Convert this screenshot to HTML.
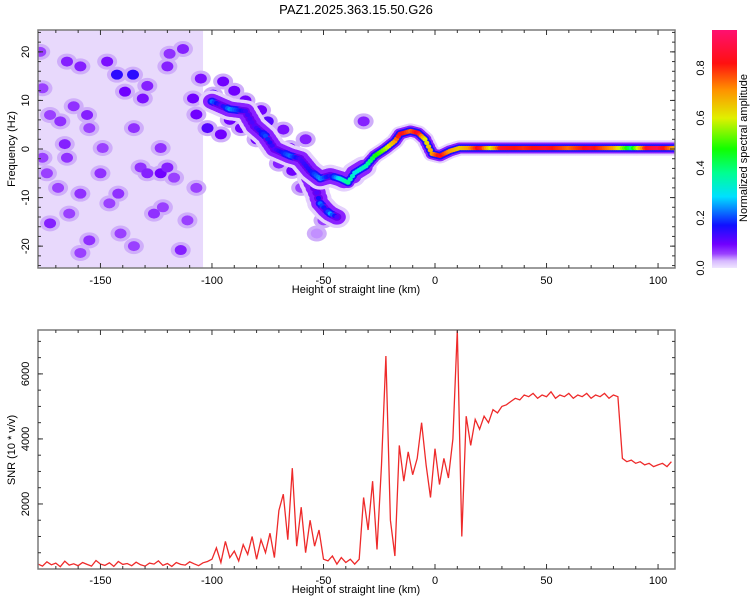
<!DOCTYPE html>
<html><head><meta charset="utf-8"><style>
html,body{margin:0;padding:0;background:#fff;}
svg{display:block;font-family:"Liberation Sans",sans-serif;}
</style></head><body>
<svg id="chart" width="750" height="600" viewBox="0 0 750 600">
<defs>
<linearGradient id="cbar" x1="0" y1="1" x2="0" y2="0">
<stop offset="0" stop-color="#f0e6ff"/><stop offset="0.03" stop-color="#d6b8ff"/><stop offset="0.06" stop-color="#9a40ff"/>
<stop offset="0.1" stop-color="#7000ff"/><stop offset="0.18" stop-color="#1010ff"/><stop offset="0.3" stop-color="#00e0ff"/>
<stop offset="0.4" stop-color="#00ff90"/><stop offset="0.5" stop-color="#10ff00"/><stop offset="0.63" stop-color="#e0f000"/>
<stop offset="0.75" stop-color="#ff9000"/><stop offset="0.86" stop-color="#ff1010"/><stop offset="1" stop-color="#ff1070"/>
</linearGradient>
<clipPath id="clipTop"><rect x="38" y="30" width="637" height="238"/></clipPath>
<clipPath id="clipBot"><rect x="38" y="330" width="637" height="239"/></clipPath>
</defs>
<text x="356" y="14" font-size="13" text-anchor="middle">PAZ1.2025.363.15.50.G26</text>
<g id="top"></g>
<g id="bot"></g>
<g id="cb">
<rect x="712" y="30" width="25" height="238" fill="url(#cbar)"/>
<text transform="translate(747,148) rotate(-90)" font-size="11" text-anchor="middle">Normalized spectral amplitude</text>
</g>
</svg>
<script>
// ---- data ----
const kmMin = -178, kmMax = 107.6;
const hzMin = -24.5, hzMax = 24.5;
const snrMax = 7350;
const xTickLabels = [-150, -100, -50, 0, 50, 100];
const hzTickLabels = [-20, -10, 0, 10, 20];
const snrTickLabels = [2000, 4000, 6000];
const cbTickLabels = [0.0, 0.2, 0.4, 0.6, 0.8];

const ridgeKm  = [-100,-96,-92,-85,-81,-76,-72,-65,-60.5,-56,-51.5,-47,-42.6,-39,-36,-31,-27,-22.4,-18,-15.7,-11,-7.6,-4.5,-1.3,2.2,6.7,11,15,20,25,30,40,50,60,70,80,88,95,100,107];
const ridgeHz  = [9.8,9,8.2,7.8,4.7,2.7,0,-1.4,-2,-4.5,-6.1,-5.5,-6.1,-6.9,-4.9,-3.5,-1.4,0,1.6,3.1,3.7,3.3,2,-1,-1.4,-0.4,0.2,0.2,0.2,0.2,0.2,0.2,0.2,0.2,0.2,0.2,0.2,0.2,0.2,0.2];
const ridgeAmp = [0.22,0.12,0.24,0.14,0.12,0.2,0.12,0.22,0.13,0.16,0.24,0.14,0.3,0.38,0.3,0.35,0.45,0.55,0.7,0.85,0.75,0.85,0.6,0.7,0.85,0.7,0.65,0.7,0.85,0.6,0.85,0.8,0.85,0.75,0.85,0.7,0.4,0.85,0.9,0.7];

const branchKm  = [-56,-53,-51.5,-49,-47,-44];
const branchHz  = [-6,-9,-11.2,-12.5,-13.3,-14];
const branchAmp = [0.1,0.12,0.22,0.15,0.25,0.12];

const blobKm  = [-142.6,-135.4,-147,-165,-159,-139,-131,-129,-120,-119,-113,-162,-156,-168,-172.6,-166,-165,-155,-135,-149,-123,-123,-120,-132,-129,-117,-107,-142,-169,-159,-172.6,-164,-155,-159,-141,-126,-122,-114,-135,-111,-176,-177,-105,-108.5,-150,-146,-176,-174,-107,-102,-95,-96,-87,-75,-65,-64,-55,-50,-32,-53,-99.5,-90,-80,-70,-60,-85,-78,-68,-58,-92];
const blobHz  = [15.3,15.3,18,18,17,11.8,10.4,13,17,19.6,20.6,8.8,7,5.7,7,1,-1.8,4.3,4.3,0.2,0.2,-5,-3.8,-3.8,-5,-5.9,-8,-9.2,-8,-9.2,-15.3,-13.3,-18.8,-21.4,-17.4,-13.3,-12,-20.8,-20,-14.7,12.5,20,14.5,10.4,-5,-11.2,-1.8,-5,7.1,4.3,13.9,3,4.3,5.7,0.2,-4.5,-5,-14.7,5.7,-17.4,11.2,12,2,-3,-8,10,8,4,2,6];
const blobAmp = [0.15,0.15,0.09,0.08,0.08,0.1,0.09,0.08,0.08,0.07,0.08,0.07,0.08,0.07,0.06,0.08,0.07,0.06,0.07,0.06,0.07,0.1,0.08,0.07,0.08,0.06,0.06,0.07,0.06,0.07,0.08,0.06,0.07,0.06,0.06,0.07,0.06,0.08,0.06,0.06,0.06,0.06,0.09,0.1,0.07,0.06,0.06,0.06,0.1,0.12,0.1,0.1,0.1,0.12,0.1,0.1,0.1,0.06,0.08,0.04,0.12,0.1,0.1,0.08,0.06,0.1,0.1,0.09,0.08,0.1];

const snrStart = -178, snrStep = 2;
const snrValues = [
150,90,220,130,180,70,240,120,160,100,200,140,90,260,150,110,190,80,230,140,170,100,210,130,90,180,150,250,110,170,80,200,140,120,220,160,100,190,230,
300,650,200,850,350,550,250,750,
450,1000,300,900,500,1100,350,1800,
2300,900,3100,700,1900,500,1500,
700,1200,300,250,400,150,350,200,300,150,
300,2200,1200,2700,600,3200,6550,1500,400,3800,2700,3600,2900,3400,4500,3200,2200,3700,2600,3400,2800,4000,7350,1000,4700,3800,4600,4300,4700,4500,4900,4800,5000,5050,5150,5250,5200,5350,
5300,5400,5250,5350,5300,5450,5250,5350,5300,5400,5250,5350,5300,5400,5250,5350,5300,5400,5250,5350,5300,
3400,3300,3350,3250,3300,3200,3250,3150,3200,3250,3150,3300];

// ---- helpers ----
const NS = "http://www.w3.org/2000/svg";
const PL = 38, PR = 675;
const xs = km => PL + (km - kmMin) / (kmMax - kmMin) * (PR - PL);
const ysTop = hz => 30 + (hzMax - hz) / (hzMax - hzMin) * 238;
const ysBot = v => 569 - v / snrMax * 239;
function mk(tag, attrs, parent) {
  const e = document.createElementNS(NS, tag);
  for (const k in attrs) e.setAttribute(k, attrs[k]);
  parent.appendChild(e);
  return e;
}
const cstops = [[0,[240,230,255]],[0.03,[214,184,255]],[0.06,[154,64,255]],[0.1,[112,0,255]],[0.17,[16,16,255]],[0.28,[0,224,255]],[0.38,[0,255,144]],[0.47,[16,255,0]],[0.6,[224,240,0]],[0.72,[255,144,0]],[0.82,[255,16,16]],[0.95,[255,16,112]]];
function cmap(a) {
  for (let i = 1; i < cstops.length; i++) {
    if (a <= cstops[i][0]) {
      const [a0, c0] = cstops[i-1], [a1, c1] = cstops[i];
      const t = (a - a0) / (a1 - a0);
      return "rgb(" + c0.map((c, j) => Math.round(c + (c1[j] - c) * t)).join(",") + ")";
    }
  }
  return "rgb(255,16,112)";
}

const topG = document.getElementById("top");
const botG = document.getElementById("bot");

// ---- top panel ----
const heat = mk("g", {"clip-path": "url(#clipTop)"}, topG);


const bg = mk("rect", {x: xs(kmMin), y: 30, width: xs(-104) - xs(kmMin), height: 238, fill: "#e8d9fc"}, heat);



function drawSeq(kmA, hzA, ampA, name) {
  const pts = [];
  for (let i = 0; i < kmA.length - 1; i++) {
    const n = Math.max(1, Math.ceil(Math.abs(kmA[i+1] - kmA[i])));
    for (let s = 0; s < n; s++) {
      const t = s / n;
      pts.push([kmA[i] + (kmA[i+1]-kmA[i])*t, hzA[i] + (hzA[i+1]-hzA[i])*t, ampA[i] + (ampA[i+1]-ampA[i])*t]);
    }
  }
  pts.push([kmA[kmA.length-1], hzA[hzA.length-1], ampA[ampA.length-1]]);
  const layers = [
    [a => a < 0.35 ? 13 : 9, a => "#e4d0fd"],
    [a => a < 0.35 ? 9 : 6.5, a => "#8a20ff"],
    [a => 4.5, a => a > 0.18 ? "#1a10ff" : "#6a00f0"],
    [a => 2.6, a => cmap(a)]];
  const g = mk("g", {}, heat);
  
  
  layers.forEach(([rf, f]) => {
    pts.forEach(p => {
      const r = rf(p[2]);
      const c = mk("ellipse", {cx: xs(p[0]), cy: ysTop(p[1]), rx: r, ry: r * 0.85, fill: f(p[2])}, g);
      
      
    });
  });
}
const gb = mk("g", {}, heat);


blobKm.forEach((k, i) => {
  const h = mk("ellipse", {cx: xs(k), cy: ysTop(blobHz[i]), rx: 10, ry: 8, fill: "#cfaefa"}, gb);
  
  
});
blobKm.forEach((k, i) => {
  const c = mk("ellipse", {cx: xs(k), cy: ysTop(blobHz[i]), rx: 6, ry: 5, fill: cmap(blobAmp[i])}, gb);
  
  
});
drawSeq(branchKm, branchHz, branchAmp, 'branch-ridge');
drawSeq(ridgeKm, ridgeHz, ridgeAmp, 'main-ridge');

function frame(g, y0, y1, name) {
  const r = mk("rect", {x: PL, y: y0, width: PR - PL, height: y1 - y0, fill: "none", stroke: "#7a7a7a", "stroke-width": 1.5}, g);
  
  
}
function xAxis(g, y0, y1, labelY, titleY) {
  for (let k = -170; k <= 100; k += 10) {
    const len = k % 50 === 0 ? 5 : 3;
    const x = xs(k);
    const t1 = mk("line", {x1: x, x2: x, y1: y0, y2: y0 + len, stroke: "#333"}, g);
    
    
    const t2 = mk("line", {x1: x, x2: x, y1: y1, y2: y1 - len, stroke: "#333"}, g);
    
    
  }
  xTickLabels.forEach(v => {
    const t = mk("text", {x: xs(v), y: labelY, "font-size": 11, "text-anchor": "middle"}, g);
    t.textContent = v;
    
    
  });
  const tt = mk("text", {x: 356, y: titleY, "font-size": 11, "text-anchor": "middle"}, g);
  tt.textContent = "Height of straight line (km)";
  
  
}
function yTicks(g, vals, ys, len) {
  vals.forEach(v => {
    const y = ys(v);
    const a = mk("line", {x1: PL, x2: PL + len, y1: y, y2: y, stroke: "#333"}, g);
    
    
    const b = mk("line", {x1: PR, x2: PR - len, y1: y, y2: y, stroke: "#333"}, g);
    
    
  });
}
function yLabels(g, vals, ys) {
  vals.forEach(v => {
    const t = mk("text", {transform: `translate(29,${ys(v)}) rotate(-90)`, "font-size": 11, "text-anchor": "middle"}, g);
    t.textContent = v;
    
    
  });
}
frame(topG, 30, 268, 'top-plot-frame');
xAxis(topG, 30, 268, 284, 293);
const hzMinor = []; for (let h = -24; h <= 24; h += 2) hzMinor.push(h);
yTicks(topG, hzMinor, ysTop, 3);
yTicks(topG, hzTickLabels, ysTop, 5);
yLabels(topG, hzTickLabels, ysTop);
const yt1 = mk("text", {transform: "translate(15,149) rotate(-90)", "font-size": 11, "text-anchor": "middle"}, topG);
yt1.textContent = "Frequency (Hz)";



// ---- bottom panel ----
let d = "";
snrValues.forEach((v, i) => { d += (i ? "L" : "M") + xs(snrStart + i * snrStep).toFixed(1) + "," + ysBot(v).toFixed(1); });
const gl = mk("g", {"clip-path": "url(#clipBot)"}, botG);
const line = mk("path", {d: d, fill: "none", stroke: "#ee2a2a", "stroke-width": 1.3}, gl);


frame(botG, 330, 569, 'bottom-plot-frame');
xAxis(botG, 330, 569, 584, 593);
const snrMinor = []; for (let s = 500; s <= 7000; s += 500) snrMinor.push(s);
yTicks(botG, snrMinor, ysBot, 3);
yTicks(botG, snrTickLabels, ysBot, 5);
yLabels(botG, snrTickLabels, ysBot);
const yt2 = mk("text", {transform: "translate(15,450) rotate(-90)", "font-size": 11, "text-anchor": "middle"}, botG);
yt2.textContent = "SNR (10 * v/v)";



// ---- colorbar labels ----
const cbG = document.getElementById("cb");
cbTickLabels.forEach(v => {
  const y = 268 - v * 250;
  const t = mk("text", {transform: `translate(704,${y}) rotate(-90)`, "font-size": 11, "text-anchor": "middle"}, cbG);
  t.textContent = v.toFixed(1);
  
  
});
</script>
</body></html>
